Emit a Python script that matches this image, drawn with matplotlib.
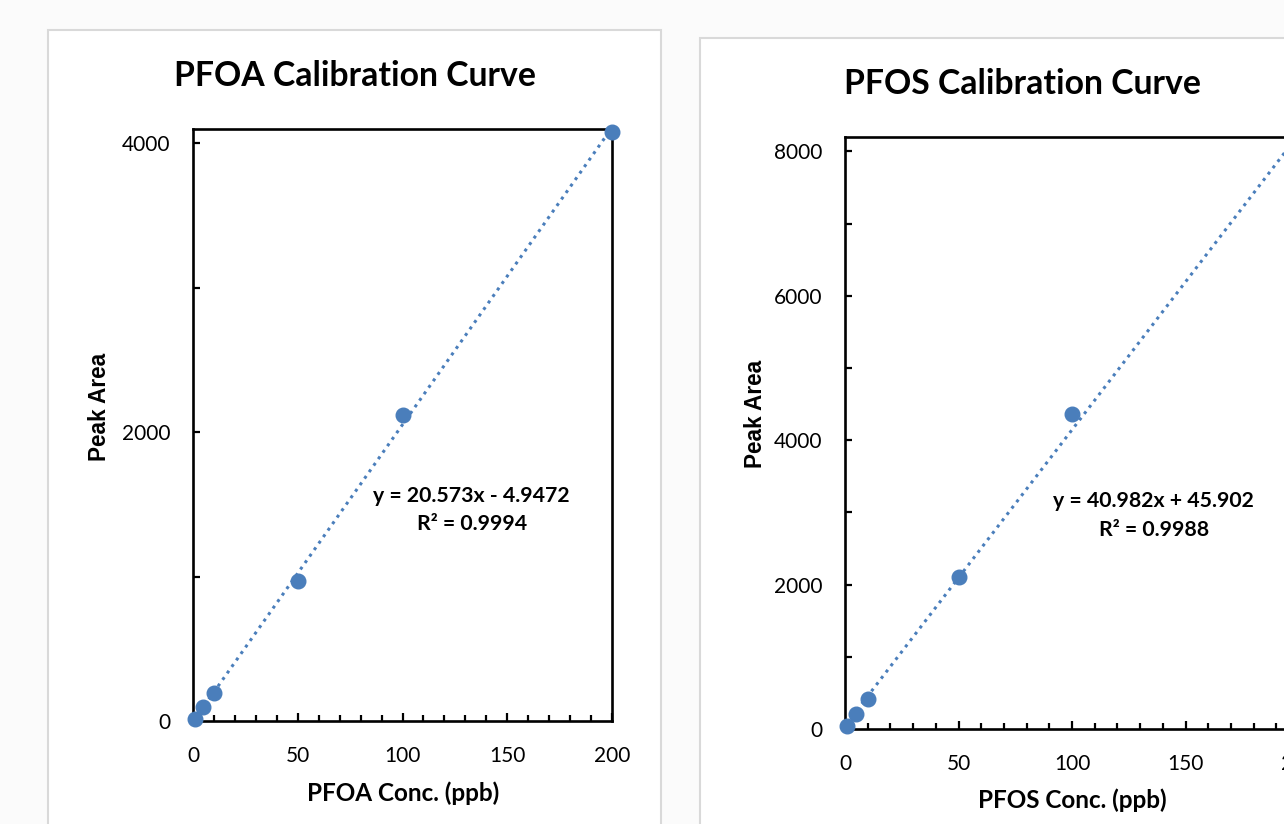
import matplotlib
matplotlib.use("Agg")
import matplotlib.pyplot as plt
from matplotlib.patches import Rectangle
from matplotlib.ticker import MultipleLocator
import numpy as np

# ---- data ----
pfoa_conc = [1, 5, 10, 50, 100, 200]
pfoa_area = [15, 95, 195, 970, 2120, 4076]
pfoa_slope, pfoa_intercept = 20.573, -4.9472
pfoa_eq = "y = 20.573x - 4.9472\nR² = 0.9994"

pfos_conc = [1, 5, 10, 50, 100, 200]
pfos_area = [40, 210, 415, 2105, 4363, 8140]
pfos_slope, pfos_intercept = 40.982, 45.902
pfos_eq = "y = 40.982x + 45.902\nR² = 0.9988"

x_ticks = [0, 50, 100, 150, 200]

BLUE = "#4A7EBB"
FONT = "Lato"

fig = plt.figure(figsize=(12.84, 8.24), dpi=100, facecolor="#FBFBFB")

# panel boxes
fig.add_artist(Rectangle((48/1284, -0.05), (661-48)/1284, 0.05 + 1 - 30/824,
                         transform=fig.transFigure, facecolor="#FFFFFF",
                         edgecolor="#D9D9D9", lw=1.5, zorder=0))
fig.add_artist(Rectangle((700/1284, -0.05), 0.6, 0.05 + 1 - 38/824,
                         transform=fig.transFigure, facecolor="#FFFFFF",
                         edgecolor="#D9D9D9", lw=1.5, zorder=0))


def make_panel(rect, conc, area, slope, intercept, eq, eq_xy, ylim, yticks,
               title, title_xy, xlabel, xlabel_xy, ylabel_xy):
    ax = fig.add_axes(rect)
    ax.set_facecolor("none")
    xs = np.array([min(conc), max(conc)], dtype=float)
    ax.plot(xs, slope * xs + intercept, color=BLUE, lw=2.2,
            linestyle=(0, (1, 1.6)), zorder=2)
    ax.plot(conc, area, 'o', color=BLUE, ms=10.5, zorder=3, clip_on=False)
    ax.set_xlim(0, 200)
    ax.set_ylim(*ylim)
    ax.set_xticks(x_ticks)
    ax.xaxis.set_minor_locator(MultipleLocator(10))
    ax.set_yticks(yticks)
    ax.yaxis.set_minor_locator(MultipleLocator(1000))
    for s in ax.spines.values():
        s.set_linewidth(1.9)
        s.set_color("black")
    ax.tick_params(axis="both", which="both", direction="in", width=1.6,
                   colors="black")
    ax.tick_params(axis="x", which="major", length=6, pad=18)
    ax.tick_params(axis="x", which="minor", length=4)
    ax.tick_params(axis="y", which="major", length=5, pad=16)
    ax.tick_params(axis="y", which="minor", length=5)
    for lab in ax.get_xticklabels() + ax.get_yticklabels():
        lab.set_fontfamily(FONT)
        lab.set_fontsize(15)
    ax.text(eq_xy[0], eq_xy[1], eq, ha="center", va="center",
            fontfamily=FONT, fontweight="bold", fontsize=15.3,
            linespacing=1.55, zorder=4)
    fig.text(title_xy[0] / 1284, 1 - title_xy[1] / 824, title,
             ha="center", va="center", fontfamily=FONT, fontweight="bold",
             fontsize=24.3)
    fig.text(xlabel_xy[0] / 1284, 1 - xlabel_xy[1] / 824, xlabel,
             ha="center", va="center", fontfamily=FONT, fontweight="bold",
             fontsize=17.5)
    fig.text(ylabel_xy[0] / 1284, 1 - ylabel_xy[1] / 824, "Peak Area",
             ha="center", va="center", rotation=90,
             fontfamily="Liberation Sans", fontweight="bold", fontsize=16.3)
    return ax


make_panel([193/1284, 1 - 721/824, (612-193)/1284, (721-129)/824],
           pfoa_conc, pfoa_area, pfoa_slope, pfoa_intercept, pfoa_eq,
           (133, 1462), (0, 4100), [0, 2000, 4000],
           "PFOA Calibration Curve", (355, 76),
           "PFOA Conc. (ppb)", (403, 793), (100, 407))

make_panel([845/1284, 1 - 729/824, (1299-845)/1284, (729-137)/824],
           pfos_conc, pfos_area, pfos_slope, pfos_intercept, pfos_eq,
           (136, 2955), (0, 8200), [0, 2000, 4000, 6000, 8000],
           "PFOS Calibration Curve", (1023, 84),
           "PFOS Conc. (ppb)", (1072, 800), (755, 414))

fig.savefig("out.png", dpi=100, facecolor=fig.get_facecolor())
